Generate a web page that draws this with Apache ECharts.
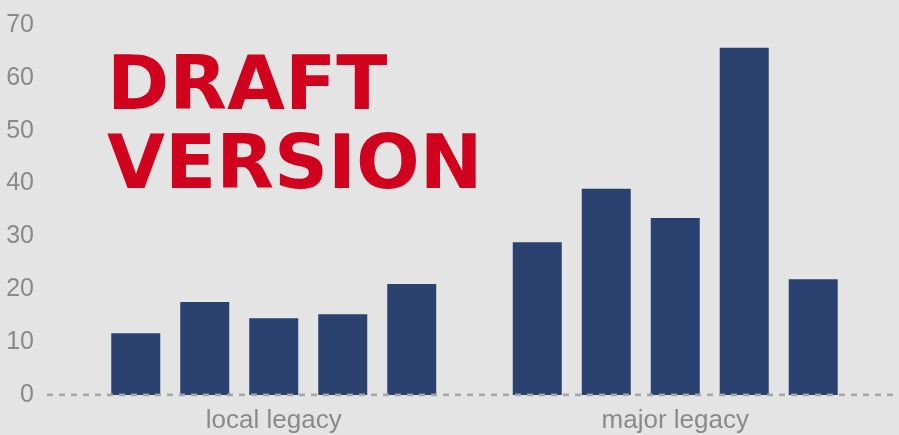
<!DOCTYPE html>
<html>
<head>
<meta charset="utf-8">
<script src="https://cdn.jsdelivr.net/npm/echarts@6/dist/echarts.min.js"></script>
<style>
  html, body { margin: 0; padding: 0; background: #e4e4e4; }
  #chart { width: 899px; height: 435px; }
</style>
</head>
<body>
<div id="chart"></div>
<script>
// Group labels on the category axis
const categories = ['local legacy', 'major legacy'];
// Five bars per group, left to right
const localLegacy = [11.7, 17.6, 14.5, 15.3, 21.0];
const majorLegacy = [28.9, 39.0, 33.5, 65.7, 21.9];
// Value axis ticks
const yMin = 0;
const yMax = 70;
const yStep = 10;

const barColor = '#2b4170';
const tickColor = '#8a8a8a';

const series = localLegacy.map((v, i) => ({
  type: 'bar',
  name: 'bar ' + (i + 1),
  xAxisIndex: 0,
  yAxisIndex: 0,
  data: [v, majorLegacy[i]],
  barWidth: 49,
  barGap: '40.8%',
  itemStyle: { color: barColor },
  silent: true
}));

// Dashed zero baseline spanning the full plot width
series.push({
  type: 'line',
  xAxisIndex: 1,
  yAxisIndex: 1,
  data: [[0, yMin], [1, yMin]],
  symbol: 'none',
  z: 5,
  lineStyle: { color: '#a6a6a6', width: 3, type: [6, 6] },
  silent: true
});

const chart = echarts.init(document.getElementById('chart'), null, { renderer: 'canvas' });
chart.setOption({
  backgroundColor: '#e4e4e4',
  animation: false,
  title: {
    text: 'DRAFT\nVERSION',
    left: 102,
    top: 45,
    textStyle: {
      fontFamily: 'DejaVu Sans',
      fontWeight: 'bold',
      fontSize: 75,
      lineHeight: 79,
      color: '#d0021e'
    }
  },
  grid: [
    { left: 73, right: 23, top: 25, bottom: 40 },
    { left: 47, right: 6, top: 25, bottom: 40 }
  ],
  xAxis: [
    {
      type: 'category',
      gridIndex: 0,
      data: categories,
      axisLine: { show: false },
      axisTick: { show: false },
      axisLabel: {
        color: tickColor,
        fontSize: 26,
        fontFamily: 'Liberation Sans, Arial, sans-serif',
        margin: 13
      }
    },
    {
      type: 'value',
      gridIndex: 1,
      min: 0,
      max: 1,
      show: false
    }
  ],
  yAxis: [
    {
      type: 'value',
      gridIndex: 0,
      min: yMin,
      max: yMax,
      interval: yStep,
      axisLine: { show: false },
      axisTick: { show: false },
      splitLine: { show: false },
      axisLabel: {
        color: tickColor,
        fontSize: 25,
        fontFamily: 'Liberation Sans, Arial, sans-serif',
        margin: 39
      }
    },
    {
      type: 'value',
      gridIndex: 1,
      min: yMin,
      max: yMax,
      show: false
    }
  ],
  series: series
});
</script>
</body>
</html>
